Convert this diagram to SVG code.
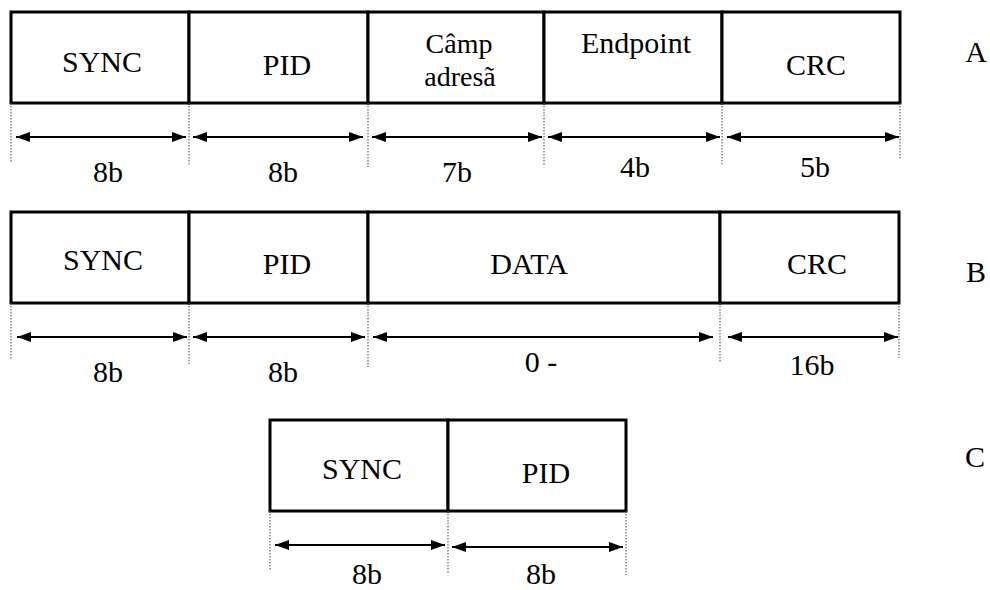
<svg xmlns="http://www.w3.org/2000/svg" width="990" height="590" viewBox="0 0 990 590">
  <style>
    .box { fill: #fff; stroke: #000; stroke-width: 3; }
    .lbl { font-family: "Times New Roman", Times, "Liberation Serif", Tinos, "Noto Serif", "DejaVu Serif", serif; font-size: 30px; fill: #000; text-anchor: middle; }
    .sm { font-size: 28px; }
    .dim { stroke: #000; stroke-width: 2; fill: none; marker-start: url(#head); marker-end: url(#head); }
    .ext { stroke: #444; stroke-width: 1; stroke-dasharray: 1.5 1.5; fill: none; }
  </style>
  <defs>
    <marker id="head" viewBox="0 0 14 10" refX="14" refY="5" markerWidth="14" markerHeight="10" markerUnits="userSpaceOnUse" orient="auto-start-reverse">
      <path d="M0,0 L14,5 L0,10 Z" fill="#000"/>
    </marker>
  </defs>
  <rect width="990" height="590" fill="#fff"/>

  <!-- Packet A -->
  <g id="a-sync"><rect class="box" x="11" y="12" width="178" height="91"/><text class="lbl" x="102" y="72">SYNC</text></g>
  <g id="a-pid"><rect class="box" x="189" y="12" width="179" height="91"/><text class="lbl" x="287" y="75">PID</text></g>
  <g id="a-addr"><rect class="box" x="368" y="12" width="176" height="91"/><text class="lbl sm" x="459" y="53">Câmp</text><text class="lbl sm" x="460" y="86">adresã</text></g>
  <g id="a-endp"><rect class="box" x="544" y="12" width="178" height="91"/><text class="lbl" x="636" y="53">Endpoint</text></g>
  <g id="a-crc"><rect class="box" x="722" y="12" width="178" height="91"/><text class="lbl" x="816" y="75">CRC</text></g>
  <g id="a-tag"><text class="lbl" x="976" y="62">A</text></g>

  <!-- Packet B -->
  <g id="b-sync"><rect class="box" x="11" y="212" width="178" height="91"/><text class="lbl" x="103" y="270">SYNC</text></g>
  <g id="b-pid"><rect class="box" x="189" y="212" width="179" height="91"/><text class="lbl" x="287" y="274">PID</text></g>
  <g id="b-data"><rect class="box" x="368" y="212" width="352" height="91"/><text class="lbl" x="529" y="274">DATA</text></g>
  <g id="b-crc"><rect class="box" x="720" y="212" width="179" height="91"/><text class="lbl" x="817" y="274">CRC</text></g>
  <g id="b-tag"><text class="lbl" x="976" y="282">B</text></g>

  <!-- Packet C -->
  <g id="c-sync"><rect class="box" x="270" y="420" width="178" height="91"/><text class="lbl" x="362" y="479">SYNC</text></g>
  <g id="c-pid"><rect class="box" x="448" y="420" width="178" height="91"/><text class="lbl" x="546" y="483">PID</text></g>
  <g id="c-tag"><text class="lbl" x="975" y="467">C</text></g>

  <!-- Dimension lines with their extension lines -->
  <g id="connectors">
    <path class="ext" d="M11,103V162 M189,103V165 M368,103V167 M544,103V165 M722,103V165 M900,103V160"/>
    <path class="dim" d="M16,137H186"/>
    <path class="dim" d="M193,137H363"/>
    <path class="dim" d="M372,137H542"/>
    <path class="dim" d="M548,137H720"/>
    <path class="dim" d="M727,137H899"/>

    <path class="ext" d="M11,303V360 M189,303V364 M368,303V367 M720,303V363 M899,303V358"/>
    <path class="dim" d="M17,337H187"/>
    <path class="dim" d="M193,337H365"/>
    <path class="dim" d="M373,337H713"/>
    <path class="dim" d="M728,337H898"/>

    <path class="ext" d="M270,511V570 M448,511V573 M626,511V575"/>
    <path class="dim" d="M275,545H445"/>
    <path class="dim" d="M452,547H623"/>
  </g>

  <!-- Field widths -->
  <g id="sizes">
    <text class="lbl" x="108" y="182">8b</text>
    <text class="lbl" x="283" y="182">8b</text>
    <text class="lbl" x="457" y="182">7b</text>
    <text class="lbl" x="635" y="177">4b</text>
    <text class="lbl" x="815" y="177">5b</text>

    <text class="lbl" x="108" y="382">8b</text>
    <text class="lbl" x="283" y="382">8b</text>
    <text class="lbl" x="541" y="372">0 -</text>
    <text class="lbl" x="812" y="375">16b</text>

    <text class="lbl" x="367" y="584">8b</text>
    <text class="lbl" x="541" y="584">8b</text>
  </g>
</svg>
